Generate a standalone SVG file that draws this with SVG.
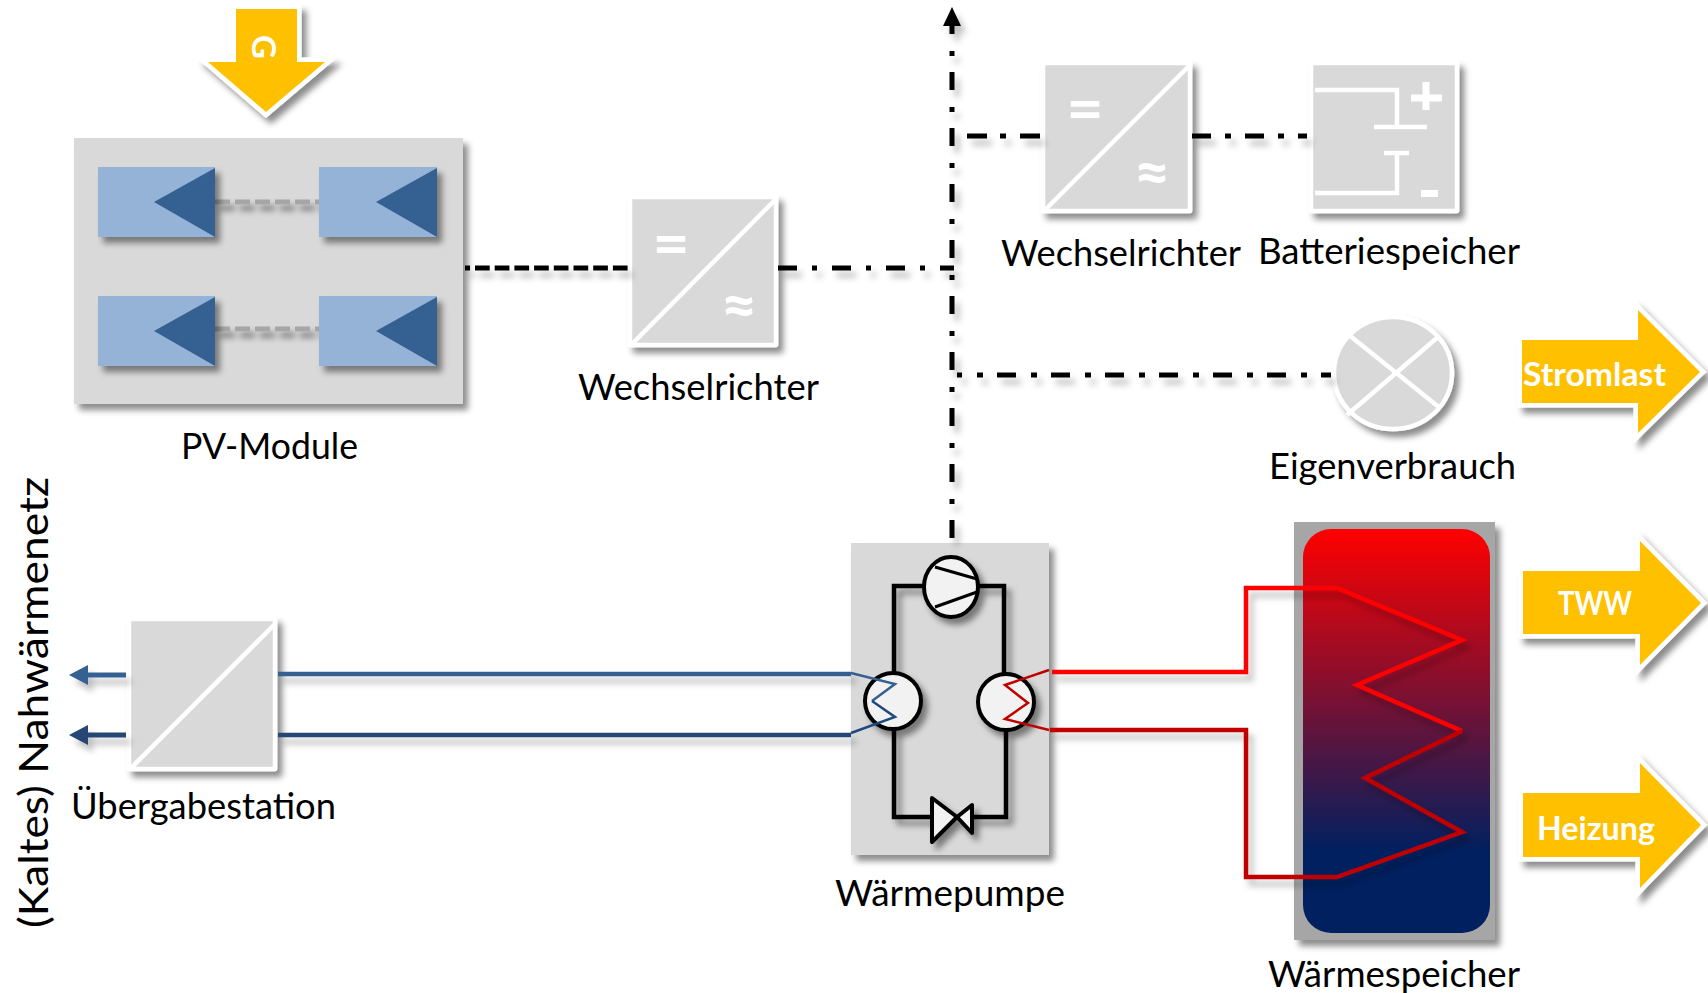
<svg xmlns="http://www.w3.org/2000/svg" width="1708" height="993" viewBox="0 0 1708 993">
<style>
text{font-family:"Lato","Carlito","Liberation Sans",sans-serif}
.lbl{font-size:37px;fill:#000}
.arw{font-size:33px;font-weight:700;fill:#fff}
.sym{font-size:64px;font-weight:700;fill:#fff;text-anchor:middle}
.gray{fill:#d9d9d9}
.conv{fill:#d9d9d9;stroke:#fff;stroke-width:4.5;stroke-linejoin:round}
.wl{stroke:#fff;fill:none;stroke-width:4.5}
.gold{fill:#ffc000;stroke:#fff;stroke-width:9;paint-order:stroke}
.pan{fill:#95b3d7}
.tri{fill:#366092}
.gd{stroke:#a6a6a6;stroke-width:5;stroke-dasharray:15 5;fill:none}
.blk{stroke:#000;stroke-width:4.5;fill:none}
.bf{stroke:#000;stroke-width:4;fill:#f2f2f2;stroke-linejoin:round}
.dd{stroke:#000;stroke-width:5;fill:none}
.r1{stroke:#f00;stroke-width:4.5;fill:none}
.r2{stroke:#c00000;stroke-width:4.5;fill:none}
</style>
<defs>
<filter id="sh" x="-20%" y="-20%" width="150%" height="150%" filterUnits="objectBoundingBox"><feDropShadow dx="5" dy="6" stdDeviation="3" flood-color="#000" flood-opacity="0.45"/></filter>
<filter id="shl" x="-5" y="-5" width="1718" height="1003" filterUnits="userSpaceOnUse"><feDropShadow dx="5" dy="7" stdDeviation="3" flood-color="#000" flood-opacity="0.25"/></filter>
<linearGradient id="tank" x1="0" y1="0" x2="0" y2="1"><stop offset="0" stop-color="#f00"/><stop offset="0.8" stop-color="#002060"/><stop offset="1" stop-color="#002060"/></linearGradient>
</defs>

<g id="sun-arrow">
<path class="gold" filter="url(#sh)" d="M236 9H297V62H325L266 112L208 62H236Z"/>
<text class="arw" transform="translate(252 35) rotate(90)">G</text>
</g>

<g id="pv-module">
<rect class="gray" x="74" y="138" width="389" height="266" filter="url(#sh)"/>
<g filter="url(#sh)"><path class="gd" d="M215 202H319M215 329H319"/></g>
<g filter="url(#sh)"><rect class="pan" x="98" y="167" width="117" height="70"/><path class="tri" d="M215 168L154 202L215 237Z"/></g>
<g filter="url(#sh)"><rect class="pan" x="319" y="167" width="118" height="70"/><path class="tri" d="M437 168L376 202L437 237Z"/></g>
<g filter="url(#sh)"><rect class="pan" x="98" y="296" width="117" height="70"/><path class="tri" d="M215 297L154 331L215 366Z"/></g>
<g filter="url(#sh)"><rect class="pan" x="319" y="296" width="118" height="70"/><path class="tri" d="M437 297L376 331L437 366Z"/></g>
<text class="lbl" x="181" y="459" textLength="177" lengthAdjust="spacingAndGlyphs">PV-Module</text>
</g>

<g id="wechselrichter-1">
<rect class="conv" x="630" y="197" width="146" height="148" filter="url(#sh)"/>
<path class="wl" d="M631 345L776 199"/>
<text class="sym" x="671" y="266">=</text>
<text class="sym" x="739" y="327">≈</text>
<text class="lbl" x="578" y="400" textLength="241" lengthAdjust="spacingAndGlyphs">Wechselrichter</text>
</g>

<g id="wechselrichter-2">
<rect class="conv" x="1043" y="63" width="147" height="148" filter="url(#sh)"/>
<path class="wl" d="M1044 211L1190 65"/>
<text class="sym" x="1085" y="131">=</text>
<text class="sym" x="1152" y="194">≈</text>
<text class="lbl" x="1001" y="266" textLength="240" lengthAdjust="spacingAndGlyphs">Wechselrichter</text>
</g>

<g id="batteriespeicher">
<rect class="conv" x="1311" y="63" width="146" height="148" filter="url(#sh)"/>
<path class="wl" d="M1315 90H1397V127M1397 153V193H1315"/>
<path class="wl" d="M1374 127H1427M1384 153H1409"/>
<path class="wl" style="stroke-width:7" d="M1411 98H1442M1426 82V110"/>
<rect x="1421" y="190" width="17" height="7" fill="#fff"/>
<text class="lbl" x="1258" y="264" textLength="262" lengthAdjust="spacingAndGlyphs">Batteriespeicher</text>
</g>

<g id="eigenverbrauch">
<ellipse cx="1393" cy="373" rx="59" ry="56" class="conv" filter="url(#sh)"/>
<path class="wl" d="M1349 335L1440 408M1438 337L1347 415"/>
<text class="lbl" x="1269" y="479" textLength="247" lengthAdjust="spacingAndGlyphs">Eigenverbrauch</text>
</g>

<g id="stromlast">
<path class="gold" filter="url(#sh)" d="M1522 340H1638V310L1700 372L1638 433V403H1522Z"/>
<text class="arw" x="1523" y="386" textLength="143" lengthAdjust="spacingAndGlyphs">Stromlast</text>
</g>
<g id="tww">
<path class="gold" filter="url(#sh)" d="M1523 571H1640V541L1701 603L1640 665V634H1523Z"/>
<text class="arw" x="1558" y="615" textLength="74" lengthAdjust="spacingAndGlyphs">TWW</text>
</g>
<g id="heizung">
<path class="gold" filter="url(#sh)" d="M1523 793H1640V763L1701 825L1640 888V857H1523Z"/>
<text class="arw" x="1537" y="840" textLength="118" lengthAdjust="spacingAndGlyphs">Heizung</text>
</g>

<g id="waermespeicher">
<rect x="1294" y="522" width="201" height="418" fill="#a6a6a6" filter="url(#sh)"/>
<rect x="1303" y="529" width="187" height="404" rx="28" fill="url(#tank)"/>
<text class="lbl" x="1268" y="987" textLength="252" lengthAdjust="spacingAndGlyphs">Wärmespeicher</text>
</g>

<g id="uebergabestation">
<rect class="conv" x="129" y="619" width="146" height="150" filter="url(#sh)"/>
<path class="wl" d="M130 769L275 624"/>
<text class="lbl" x="71" y="819" textLength="265" lengthAdjust="spacingAndGlyphs">Übergabestation</text>
</g>

<g id="waermepumpe">
<rect class="gray" x="851" y="543" width="198" height="312" filter="url(#sh)"/>
<g filter="url(#sh)">
<path class="blk" d="M924 586H894V675M894 729V817H932M972 817H1006V730M1004 675V586H978"/>
<ellipse class="bf" cx="951" cy="587" rx="27" ry="30"/>
<path d="M935 567L977 579M935 607L977 592" stroke="#000" stroke-width="3" fill="none"/>
<circle class="bf" cx="893" cy="701" r="28"/>
<circle class="bf" cx="1006" cy="702" r="28"/>
<path class="bf" d="M932 798L957 817L972 805V833L957 817L932 842Z"/>
</g>
<path d="M851 673L895 684L872 701" stroke="#366092" stroke-width="2.5" fill="none"/>
<path d="M872 701L895 717L851 733" stroke="#1f497d" stroke-width="2.5" fill="none"/>
<path d="M1049 670L1005 685L1028 703L1005 719L1049 730" stroke="#c00000" stroke-width="2.5" fill="none"/>
<text class="lbl" x="835" y="906" textLength="230" lengthAdjust="spacingAndGlyphs">Wärmepumpe</text>
</g>

<text id="nahwaermenetz" class="lbl" style="font-size:41px" transform="translate(48 928) rotate(-90)" textLength="451" lengthAdjust="spacingAndGlyphs">(Kaltes) Nahwärmenetz</text>

<g id="connectors">
<g filter="url(#shl)">
<path class="dd" stroke-dasharray="18 16 5 17" d="M952 538V26"/>
<path d="M952 7L961 26H943Z" fill="#000"/>
<path class="dd" d="M465 268H470"/>
<path class="dd" stroke-dasharray="14.7 5" d="M475 268H628"/>
<path class="dd" stroke-dasharray="19 15 5 15" d="M778 268H954"/>
<path class="dd" stroke-dasharray="20 13 6 14" d="M967 136H1040"/>
<path class="dd" stroke-dasharray="19 14 6 14" d="M1192 136H1307"/>
<path class="dd" d="M957 375H962"/>
<path class="dd" stroke-dasharray="6 14 19 15" d="M977 375H1331"/>
</g>
<g filter="url(#shl)">
<path stroke="#366092" stroke-width="4.5" fill="none" d="M278 674H851"/>
<path stroke="#254773" stroke-width="4.5" fill="none" d="M278 735H851"/>
<path stroke="#366092" stroke-width="5" fill="none" d="M126 675H85"/>
<path fill="#366092" d="M69 675L88 665V685Z"/>
<path stroke="#254773" stroke-width="5" fill="none" d="M126 735H85"/>
<path fill="#254773" d="M69 735L88 725V745Z"/>
</g>
<g filter="url(#shl)">
<path class="r1" d="M1052 672H1246V588H1337L1462 640L1357 685L1462 731"/>
<path class="r2" d="M1462 731L1365 778L1462 832L1337 877H1246V730H1050"/>
</g>
</g>
</svg>
